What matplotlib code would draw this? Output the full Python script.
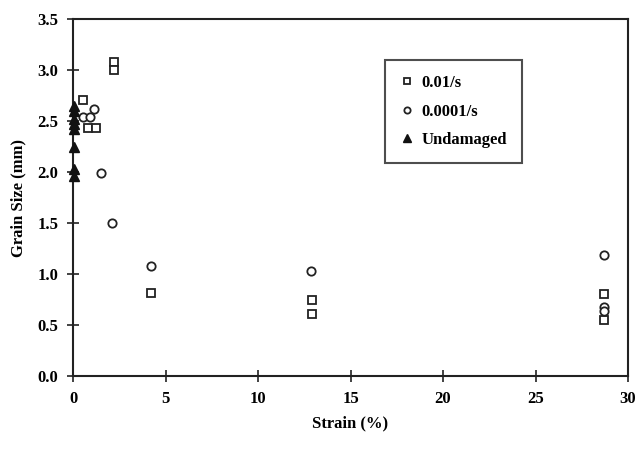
import matplotlib
matplotlib.use("Agg")
import matplotlib.pyplot as plt

# 0.01/s (squares)
sq_x = [2.2, 2.2, 0.56, 0.83, 1.23, 4.2, 12.9, 12.9, 28.7, 28.7]
sq_y = [3.08, 3.00, 2.71, 2.43, 2.43, 0.81, 0.745, 0.61, 0.80, 0.55]
# 0.0001/s (circles)
ci_x = [1.15, 0.52, 0.92, 1.51, 2.12, 4.2, 12.86, 28.7, 28.7, 28.7]
ci_y = [2.62, 2.54, 2.54, 1.99, 1.50, 1.08, 1.03, 1.19, 0.68, 0.64]
# Undamaged (triangles)
tr_x = [0.05, 0.05, 0.05, 0.05, 0.05, 0.05, 0.05, 0.05]
tr_y = [2.65, 2.60, 2.52, 2.47, 2.42, 2.25, 2.03, 1.96]

xticks = [0, 5, 10, 15, 20, 25, 30]
yticks = [0.0, 0.5, 1.0, 1.5, 2.0, 2.5, 3.0, 3.5]

plt.rcParams['font.family'] = ['Liberation Serif', 'DejaVu Serif']

fig = plt.figure(figsize=(6.37, 4.5), dpi=100)
ax = fig.add_axes([0.1146, 0.1644, 0.8714, 0.7934])

ax.plot(sq_x, sq_y, 's', ms=6, mfc='white', mec='#222222', mew=1.3, ls='none', label='0.01/s')
ax.plot(ci_x, ci_y, 'o', ms=6, mfc='white', mec='#222222', mew=1.3, ls='none', label='0.0001/s')
ax.plot(tr_x, tr_y, '^', ms=7, mfc='#111111', mec='#111111', ls='none', label='Undamaged',
        clip_on=False, zorder=5)

ax.set_xlim(0, 30)
ax.set_ylim(0, 3.5)
ax.set_xticks(xticks)
ax.set_yticks(yticks)
ax.set_xticklabels([str(v) for v in xticks], fontweight='bold', fontsize=12)
ax.set_yticklabels([f"{v:.1f}" for v in yticks], fontweight='bold', fontsize=12)
ax.tick_params(direction='inout', length=9, width=1.2, color='#222222', pad=6)
for s in ax.spines.values():
    s.set_linewidth(1.5)
    s.set_color('#222222')

ax.set_xlabel('Strain (%)', fontweight='bold', fontsize=12, labelpad=6)
ax.set_ylabel('Grain Size (mm)', fontweight='bold', fontsize=12, labelpad=8)

leg = ax.legend(loc='upper left', bbox_to_anchor=(0.562, 0.885), frameon=True, fancybox=False,
                edgecolor='#222222', prop={'weight': 'bold', 'size': 12}, markerscale=0.75,
                handlelength=0.8, handletextpad=0.5, labelspacing=0.75, borderpad=0.9,
                borderaxespad=0)
leg.get_frame().set_linewidth(1.5)

fig.savefig('out.png', dpi=100, facecolor='white')
